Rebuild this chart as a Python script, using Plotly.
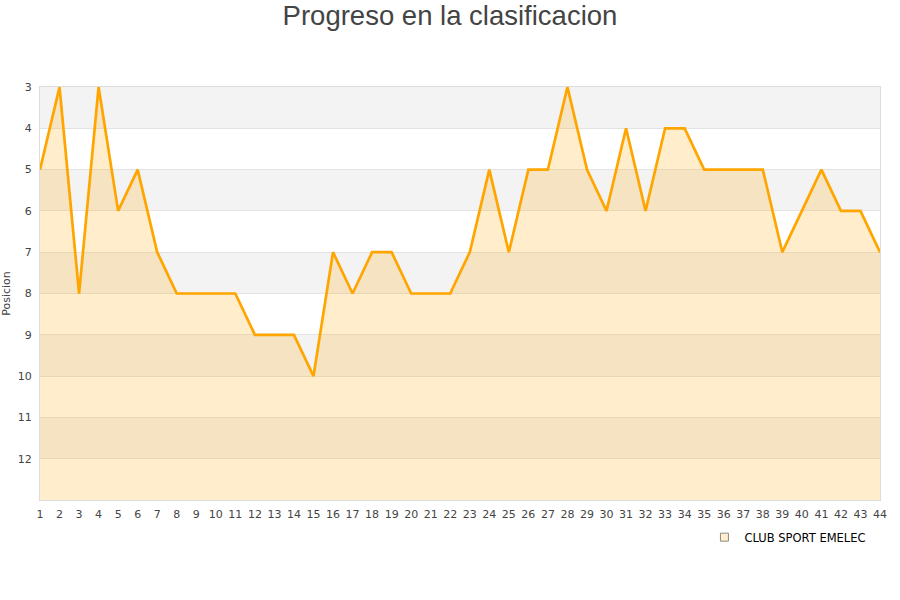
import plotly.graph_objects as go

jornadas = list(range(1, 45))
posiciones = [5, 3, 8, 3, 6, 5, 7, 8, 8, 8, 8, 9, 9, 9, 10, 7, 8, 7, 7, 8, 8, 8,
              7, 5, 7, 5, 5, 3, 5, 6, 4, 6, 4, 4, 5, 5, 5, 5, 7, 6, 5, 6, 6, 7]
equipo = "CLUB SPORT EMELEC"
y_ticks = list(range(3, 13))
y_bottom = 13

fig = go.Figure()

# base invisible para rellenar hasta el fondo (eje invertido)
fig.add_trace(go.Scatter(x=jornadas, y=[y_bottom] * len(jornadas), mode="lines",
                         line=dict(width=0), showlegend=False, hoverinfo="skip"))
fig.add_trace(go.Scatter(x=jornadas, y=posiciones, mode="lines", name=equipo,
                         line=dict(color="#FFA500", width=2.7),
                         fill="tonexty", fillcolor="rgba(255,165,0,0.2)",
                         showlegend=False))
# entrada de leyenda
fig.add_trace(go.Scatter(x=[None], y=[None], mode="markers", name=equipo,
                         marker=dict(symbol="square", size=8, color="#FFEDCC",
                                     line=dict(color="#8a8a8a", width=1))))

# bandas alternas
for v in y_ticks[::2]:
    fig.add_shape(type="rect", xref="paper", yref="y", x0=0, x1=1, y0=v, y1=v + 1,
                  fillcolor="#F3F3F3", line=dict(width=0), layer="below")

fig.update_layout(
    width=900, height=600,
    title=dict(text="Progreso en la clasificacion", x=0.5, y=0.975, xanchor="center",
               yanchor="middle", yref="container",
               font=dict(family="Liberation Sans, Arial", size=27.5, color="#444")),
    plot_bgcolor="white", paper_bgcolor="white",
    margin=dict(l=40, r=20, t=87, b=100, autoexpand=False),
    font=dict(family="DejaVu Sans", size=11, color="#444"),
    legend=dict(x=0.791, y=-0.09, xanchor="left", yanchor="middle", itemwidth=30,
                font=dict(family="DejaVu Sans", size=11.5, color="#000"),
                bgcolor="rgba(0,0,0,0)"),
)
fig.update_xaxes(range=[1, 44], tickvals=jornadas, showgrid=False, zeroline=False,
                 showline=True, linecolor="#dddddd", linewidth=1, mirror=True,
                 automargin=False, ticklabelstandoff=4,
                 tickfont=dict(size=11, color="#444"), ticks="")
fig.update_yaxes(range=[y_bottom, 3], tickvals=y_ticks, showgrid=True, gridcolor="#e3e3e3",
                 zeroline=False, showline=True, linecolor="#dddddd", linewidth=1, mirror=True,
                 automargin=False, ticklabelstandoff=5,
                 title=dict(text="Posicion", font=dict(size=11, color="#444"), standoff=4),
                 tickfont=dict(size=11, color="#444"), ticks="")

# quitar el margen por defecto del body para que el grafico empiece en 0,0
fig.write_html("out.html", config={"displayModeBar": False},
               post_script="document.body.style.margin = '0';")
